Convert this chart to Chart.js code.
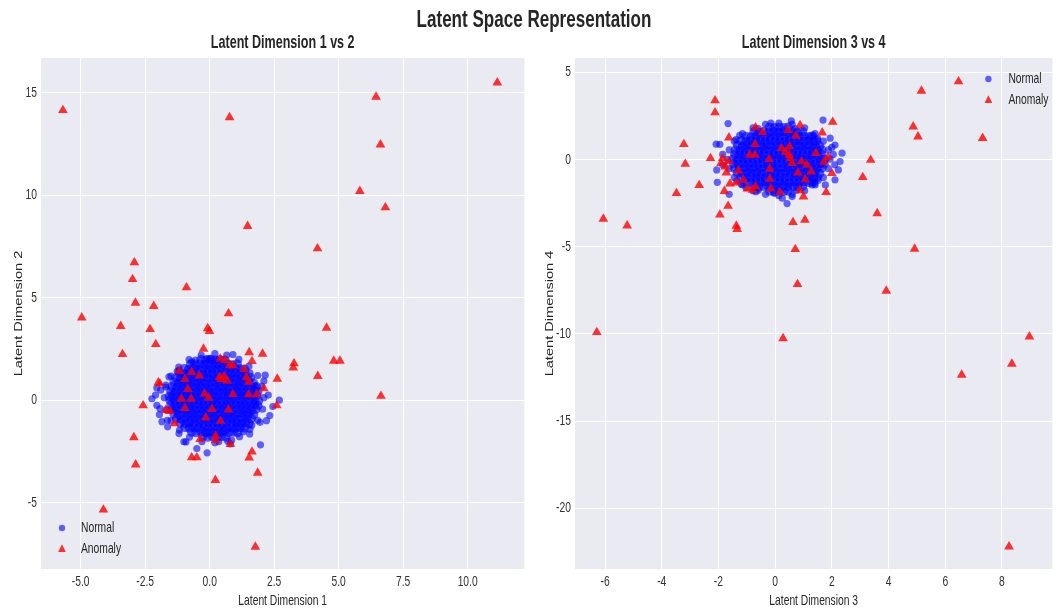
<!DOCTYPE html>
<html>
<head>
<meta charset="utf-8">
<script src="https://cdn.jsdelivr.net/npm/chart.js@4.4.0/dist/chart.umd.min.js"></script>
<style>
html, body { margin: 0; padding: 0; background: #fff; }
#wrap { position: relative; width: 1058px; height: 610px; overflow: hidden; }
#sup { position: absolute; left: 0; width: 1068px; top: 5px; text-align: center; font: bold 24px 'Liberation Sans', sans-serif; line-height: 28px; color: #262626; transform: scaleX(0.71); transform-origin: 534px 0; }
#c1 { position: absolute; left: 0; top: 0; }
#c2 { position: absolute; left: 530px; top: 0; }
</style>
</head>
<body>
<div id="wrap">
  <canvas id="c1" width="530" height="610" style="width:530px;height:610px"></canvas>
  <canvas id="c2" width="528" height="610" style="width:528px;height:610px"></canvas>
  <div id="sup">Latent Space Representation</div>
</div>
<script>
// ---- data: latent dims 1 & 2 ----
const normalCore12 = [
  [-0.26,-1.76],[-0.07,-1.8],[0.11,-1.77],[0.29,-1.79],[0.45,-1.76],[0.62,-1.8],
  [-0.7,-1.55],[-0.53,-1.58],[-0.34,-1.54],[-0.15,-1.57],[0.02,-1.55],[0.21,-1.58],[0.38,-1.56],[0.57,-1.53],[0.74,-1.57],[0.91,-1.55],[1.07,-1.58],
  [-0.96,-1.33],[-0.78,-1.36],[-0.61,-1.32],[-0.42,-1.35],[-0.23,-1.33],[-0.06,-1.36],[0.12,-1.32],[0.31,-1.35],[0.48,-1.33],[0.66,-1.36],[0.85,-1.33],[1.02,-1.35],[1.19,-1.32],[1.35,-1.35],
  [-1.14,-1.11],[-0.95,-1.14],[-0.78,-1.1],[-0.6,-1.13],[-0.41,-1.11],[-0.24,-1.14],[-0.05,-1.1],[0.12,-1.13],[0.3,-1.11],[0.49,-1.14],[0.66,-1.1],[0.84,-1.13],[1.03,-1.11],[1.2,-1.14],[1.37,-1.1],[1.52,-1.13],
  [-1.28,-0.89],[-1.1,-0.92],[-0.92,-0.88],[-0.73,-0.91],[-0.56,-0.89],[-0.38,-0.92],[-0.19,-0.88],[-0.02,-0.91],[0.16,-0.89],[0.35,-0.92],[0.52,-0.88],[0.7,-0.91],[0.89,-0.89],[1.06,-0.92],[1.24,-0.88],[1.42,-0.91],[1.61,-0.89],
  [-1.38,-0.67],[-1.2,-0.7],[-1.01,-0.66],[-0.84,-0.69],[-0.66,-0.67],[-0.47,-0.7],[-0.3,-0.66],[-0.12,-0.69],[0.07,-0.67],[0.24,-0.7],[0.42,-0.66],[0.61,-0.69],[0.78,-0.67],[0.96,-0.7],[1.15,-0.66],[1.32,-0.69],[1.5,-0.67],[1.7,-0.7],
  [-1.46,-0.45],[-1.28,-0.48],[-1.1,-0.44],[-0.91,-0.47],[-0.74,-0.45],[-0.56,-0.48],[-0.37,-0.44],[-0.2,-0.47],[-0.02,-0.45],[0.17,-0.48],[0.34,-0.44],[0.52,-0.47],[0.71,-0.45],[0.88,-0.48],[1.06,-0.44],[1.25,-0.47],[1.42,-0.45],[1.6,-0.48],[1.79,-0.44],
  [-1.5,-0.23],[-1.32,-0.26],[-1.13,-0.22],[-0.96,-0.25],[-0.78,-0.23],[-0.59,-0.26],[-0.42,-0.22],[-0.24,-0.25],[-0.05,-0.23],[0.12,-0.26],[0.3,-0.22],[0.49,-0.25],[0.66,-0.23],[0.84,-0.26],[1.03,-0.22],[1.2,-0.25],[1.38,-0.23],[1.57,-0.26],[1.74,-0.22],[1.86,-0.25],
  [-1.53,-0.01],[-1.35,-0.04],[-1.17,0.0],[-0.98,-0.03],[-0.81,-0.01],[-0.63,-0.04],[-0.44,0.0],[-0.27,-0.03],[-0.09,-0.01],[0.1,-0.04],[0.27,0.0],[0.45,-0.03],[0.64,-0.01],[0.81,-0.04],[0.99,0.0],[1.18,-0.03],[1.35,-0.01],[1.53,-0.04],[1.72,0.0],[1.89,-0.03],
  [-1.56,0.19],[-1.44,0.21],[-1.26,0.18],[-1.08,0.22],[-0.89,0.19],[-0.72,0.21],[-0.54,0.18],[-0.35,0.22],[-0.18,0.19],[0.0,0.21],[0.19,0.18],[0.36,0.22],[0.54,0.19],[0.73,0.21],[0.9,0.18],[1.08,0.22],[1.27,0.19],[1.44,0.21],[1.62,0.18],[1.81,0.22],
  [-1.5,0.43],[-1.32,0.4],[-1.13,0.44],[-0.96,0.41],[-0.78,0.43],[-0.59,0.4],[-0.42,0.44],[-0.24,0.41],[-0.05,0.43],[0.12,0.4],[0.3,0.44],[0.49,0.41],[0.66,0.43],[0.84,0.4],[1.03,0.44],[1.2,0.41],[1.38,0.43],[1.57,0.4],[1.74,0.44],[1.86,0.41],
  [-1.45,0.65],[-1.26,0.62],[-1.08,0.66],[-0.9,0.63],[-0.71,0.65],[-0.54,0.62],[-0.36,0.66],[-0.17,0.63],[0.0,0.65],[0.18,0.62],[0.37,0.66],[0.54,0.63],[0.72,0.65],[0.91,0.62],[1.08,0.66],[1.26,0.63],[1.45,0.65],[1.62,0.62],[1.8,0.66],
  [-1.38,0.87],[-1.2,0.84],[-1.01,0.88],[-0.84,0.85],[-0.66,0.87],[-0.47,0.84],[-0.3,0.88],[-0.12,0.85],[0.07,0.87],[0.24,0.84],[0.42,0.88],[0.61,0.85],[0.78,0.87],[0.96,0.84],[1.15,0.88],[1.32,0.85],[1.5,0.87],[1.69,0.84],
  [-1.3,1.09],[-1.12,1.06],[-0.93,1.1],[-0.76,1.07],[-0.58,1.09],[-0.39,1.06],[-0.22,1.1],[-0.04,1.07],[0.15,1.09],[0.32,1.06],[0.5,1.1],[0.69,1.07],[0.86,1.09],[1.04,1.06],[1.23,1.1],[1.4,1.07],[1.58,1.09],
  [-1.17,1.31],[-0.99,1.28],[-0.8,1.32],[-0.63,1.29],[-0.45,1.31],[-0.26,1.28],[-0.09,1.32],[0.09,1.29],[0.28,1.31],[0.45,1.28],[0.63,1.32],[0.82,1.29],[0.99,1.31],[1.17,1.28],[1.36,1.32],[1.52,1.29],
  [-0.99,1.53],[-0.81,1.5],[-0.62,1.54],[-0.45,1.51],[-0.27,1.53],[-0.08,1.5],[0.09,1.54],[0.27,1.51],[0.46,1.53],[0.63,1.5],[0.81,1.54],[1.0,1.51],[1.17,1.53],[1.35,1.5],
  [-0.74,1.75],[-0.56,1.72],[-0.37,1.76],[-0.2,1.73],[-0.02,1.75],[0.17,1.72],[0.34,1.76],[0.52,1.73],[0.71,1.75],[0.88,1.72],[1.06,1.76],
  [-0.33,1.97],[-0.14,1.94],[0.03,1.98],[0.21,1.95],[0.4,1.97],[0.59,1.94]
];
const normalEdge12 = [
  [2.1,0.12],[2.02,0.68],[1.86,1.2],[1.52,1.66],[1.13,1.99],[0.66,2.2],[0.2,2.27],[-0.33,2.2],[-0.8,1.98],[-1.2,1.62],[-1.5,1.18],[-1.7,0.64],
  [-1.76,0.12],[-1.69,-0.47],[-1.5,-1.0],[-1.17,-1.46],[-0.78,-1.8],[-0.3,-2.02],[0.2,-2.08],[0.7,-2.0],[1.16,-1.78],[1.56,-1.42],[1.86,-0.98],[2.05,-0.44],
  [-2.24,0.07],[0.9,2.23],[2.1,0.93],[2.7,0.0],[2.27,0.25],[2.45,-0.31],[2.33,-0.75],[2.2,-1.0],[1.95,-1.08],[1.55,-1.65],[1.97,-2.18],[0.8,-2.13],
  [0.35,-2.03],[-0.1,-2.57],[-0.5,-2.36],[-0.92,-2.04],[-1.63,-1.3],[-1.64,-0.98],[-1.93,-0.41],[-1.9,0.49],[-1.7,0.73],[-1.26,1.41],[-0.55,1.95],[0.03,2.03],
  [-2.05,0.6],[-2.1,0.25],[-2.05,-0.25],[-1.95,-0.7],[-1.85,-1.05],[-1.19,-1.63],[-1.0,-2.03],[0.85,-1.95],[1.31,-1.54],[1.63,-1.22],[2.15,1.22],[1.76,0.68],
  [-0.68,1.87],[-0.1,2.03],[0.28,1.95],[-1.19,1.46],[-1.58,1.14]
];
const anomaly12 = [
  [-5.69,14.15],[0.77,13.8],[6.45,14.8],[11.15,15.5],[6.62,12.47],[5.82,10.2],[6.81,9.4],[1.47,8.49],[4.18,7.4],[-2.92,6.72],
  [-2.99,5.9],[-0.9,5.5],[-2.88,4.75],[-2.17,4.59],[-4.96,4.03],[0.73,4.23],[-3.45,3.61],[-2.31,3.46],[-0.08,3.5],[-0.01,3.37],
  [4.53,3.53],[-2.09,2.73],[-3.38,2.24],[-0.24,2.5],[1.53,2.33],[2.05,2.26],[1.64,1.9],[3.27,1.79],[3.24,1.58],[4.81,1.92],
  [5.05,1.92],[4.19,1.17],[2.62,1.04],[6.64,0.2],[-2.58,-0.26],[2.6,-0.26],[-2.94,-1.82],[-2.87,-3.15],[-0.7,-2.8],[-0.5,-2.8],
  [1.53,-2.81],[1.64,-2.52],[1.86,-3.55],[0.22,-3.9],[-4.12,-5.35],[1.77,-7.16],[-0.37,-1.9],[0.23,-1.74],[0.23,-1.95],[0.8,-2.15],
  [-1.99,0.86],[-1.93,0.8],[-1.18,1.43],[-0.96,1.02],[-0.7,1.37],[-0.4,1.2],[-0.85,0.54],[-1.1,0.06],[-0.72,0.06],[-0.96,-0.39],
  [-1.7,-0.49],[-1.54,-0.54],[-1.36,-1.14],[-0.2,0.31],[-0.04,0.11],[0.09,-0.44],[-0.15,-0.85],[0.42,-1.02],[0.73,-0.46],[0.9,0.29],
  [0.41,2.02],[0.6,1.95],[0.77,1.69],[0.91,1.69],[0.38,1.12],[0.56,1.17],[0.68,0.94],[0.45,1.02],[1.33,1.51],[1.42,1.11],
  [1.51,0.89],[1.51,0.28],[1.82,0.28],[2.1,0.57]
];

// ---- data: latent dims 3 & 4 ----
const normalCore34 = [
  [-0.2,-1.79],[-0.03,-1.82],[0.14,-1.78],[0.31,-1.81],[0.46,-1.79],
  [-0.74,-1.53],[-0.57,-1.56],[-0.4,-1.52],[-0.23,-1.55],[-0.06,-1.53],[0.11,-1.56],[0.28,-1.52],[0.45,-1.55],[0.62,-1.53],[0.79,-1.56],[0.96,-1.52],
  [-1.02,-1.27],[-0.85,-1.3],[-0.68,-1.26],[-0.51,-1.29],[-0.34,-1.27],[-0.17,-1.3],[0.0,-1.26],[0.17,-1.29],[0.34,-1.27],[0.51,-1.3],[0.68,-1.26],[0.85,-1.29],[1.02,-1.27],[1.19,-1.3],[1.3,-1.26],
  [-1.2,-1.01],[-1.03,-1.04],[-0.86,-1.0],[-0.69,-1.03],[-0.52,-1.01],[-0.35,-1.04],[-0.18,-1.0],[-0.01,-1.03],[0.16,-1.01],[0.33,-1.04],[0.5,-1.0],[0.67,-1.03],[0.84,-1.01],[1.01,-1.04],[1.18,-1.0],[1.35,-1.03],[1.47,-1.01],
  [-1.33,-0.75],[-1.16,-0.78],[-0.99,-0.74],[-0.82,-0.77],[-0.65,-0.75],[-0.48,-0.78],[-0.31,-0.74],[-0.14,-0.77],[0.03,-0.75],[0.2,-0.78],[0.37,-0.74],[0.54,-0.77],[0.71,-0.75],[0.88,-0.78],[1.05,-0.74],[1.22,-0.77],[1.39,-0.75],[1.56,-0.78],
  [-1.42,-0.49],[-1.25,-0.52],[-1.08,-0.48],[-0.91,-0.51],[-0.74,-0.49],[-0.57,-0.52],[-0.4,-0.48],[-0.23,-0.51],[-0.06,-0.49],[0.11,-0.52],[0.28,-0.48],[0.45,-0.51],[0.62,-0.49],[0.79,-0.52],[0.96,-0.48],[1.13,-0.51],[1.3,-0.49],[1.47,-0.52],[1.64,-0.48],
  [-1.46,-0.23],[-1.29,-0.26],[-1.12,-0.22],[-0.95,-0.25],[-0.78,-0.23],[-0.61,-0.26],[-0.44,-0.22],[-0.27,-0.25],[-0.1,-0.23],[0.07,-0.26],[0.24,-0.22],[0.41,-0.25],[0.58,-0.23],[0.75,-0.26],[0.92,-0.22],[1.09,-0.25],[1.26,-0.23],[1.43,-0.26],[1.6,-0.22],[1.72,-0.25],
  [-1.48,0.03],[-1.31,0.0],[-1.14,0.04],[-0.97,0.01],[-0.8,0.03],[-0.63,0.0],[-0.46,0.04],[-0.29,0.01],[-0.12,0.03],[0.05,0.0],[0.22,0.04],[0.39,0.01],[0.56,0.03],[0.73,0.0],[0.9,0.04],[1.07,0.01],[1.24,0.03],[1.41,0.0],[1.58,0.04],[1.74,0.01],
  [-1.42,0.29],[-1.25,0.26],[-1.08,0.3],[-0.91,0.27],[-0.74,0.29],[-0.57,0.26],[-0.4,0.3],[-0.23,0.27],[-0.06,0.29],[0.11,0.26],[0.28,0.3],[0.45,0.27],[0.62,0.29],[0.79,0.26],[0.96,0.3],[1.13,0.27],[1.3,0.29],[1.47,0.26],[1.64,0.3],
  [-1.4,0.55],[-1.23,0.52],[-1.06,0.56],[-0.89,0.53],[-0.72,0.55],[-0.55,0.52],[-0.38,0.56],[-0.21,0.53],[-0.04,0.55],[0.13,0.52],[0.3,0.56],[0.47,0.53],[0.64,0.55],[0.81,0.52],[0.98,0.56],[1.15,0.53],[1.32,0.55],[1.49,0.52],[1.64,0.56],
  [-1.32,0.81],[-1.15,0.78],[-0.98,0.82],[-0.81,0.79],[-0.64,0.81],[-0.47,0.78],[-0.3,0.82],[-0.13,0.79],[0.04,0.81],[0.21,0.78],[0.38,0.82],[0.55,0.79],[0.72,0.81],[0.89,0.78],[1.06,0.82],[1.23,0.79],[1.4,0.81],[1.57,0.78],
  [-1.2,1.07],[-1.03,1.04],[-0.86,1.08],[-0.69,1.05],[-0.52,1.07],[-0.35,1.04],[-0.18,1.08],[-0.01,1.05],[0.16,1.07],[0.33,1.04],[0.5,1.08],[0.67,1.05],[0.84,1.07],[1.01,1.04],[1.18,1.08],[1.35,1.05],[1.46,1.07],
  [-1.02,1.33],[-0.85,1.3],[-0.68,1.34],[-0.51,1.31],[-0.34,1.33],[-0.17,1.3],[0.0,1.34],[0.17,1.31],[0.34,1.33],[0.51,1.3],[0.68,1.34],[0.85,1.31],[1.02,1.33],[1.19,1.3],[1.29,1.34],
  [-0.74,1.59],[-0.57,1.56],[-0.4,1.6],[-0.23,1.57],[-0.06,1.59],[0.11,1.56],[0.28,1.6],[0.45,1.57],[0.62,1.59],[0.79,1.56],[0.96,1.6],
  [-0.2,1.85],[-0.03,1.82],[0.14,1.86],[0.31,1.83],[0.46,1.85]
];
const normalEdge34 = [
  [1.94,0.03],[1.88,0.56],[1.7,1.06],[1.41,1.49],[1.04,1.82],[0.6,2.03],[0.13,2.1],[-0.34,2.03],[-0.78,1.82],[-1.15,1.49],[-1.44,1.06],[-1.62,0.56],
  [-1.68,0.02],[-1.62,-0.52],[-1.44,-1.02],[-1.15,-1.45],[-0.78,-1.78],[-0.34,-1.99],[0.13,-2.06],[0.6,-1.99],[1.04,-1.78],[1.41,-1.45],[1.7,-1.02],[1.88,-0.52],
  [-1.66,2.07],[-1.95,0.88],[-2.08,0.89],[-2.06,-0.59],[-2.04,-1.3],[-1.62,-1.99],[-1.03,-1.6],[-0.15,2.09],[0.57,2.22],[1.69,2.27],[1.94,1.23],[2.11,0.84],
  [2.36,0.37],[2.29,-0.11],[2.23,-0.59],[2.11,-1.16],[1.77,-1.45],[1.3,-1.45],[0.6,-2.12],[0.42,-2.52],[0.25,-2.21],[-0.03,-1.93],[-0.68,-1.84],[2.05,0.3],
  [2.1,-0.3],[2.0,0.7],[-1.85,0.3],[-1.85,-0.3],[-1.25,1.4],[-1.38,1.15],[1.35,1.4],[1.5,1.2],[-1.2,-1.4],[-1.35,-1.2],[1.4,-1.35],[1.52,-1.18],
  [-0.6,1.78],[0.7,1.78],[-0.6,-1.75],[0.75,-1.75]
];
const anomaly34 = [
  [-2.12,3.39],[-2.12,2.7],[6.47,4.48],[5.16,3.94],[4.87,1.89],[5.04,1.32],[7.32,1.23],[-3.22,0.88],[-3.17,-0.25],[-2.28,0.08],
  [3.37,-0.02],[3.09,-1.01],[-3.48,-1.93],[-2.68,-1.47],[-6.06,-3.4],[-5.22,-3.79],[-1.95,-3.16],[-1.66,-2.66],[-1.79,-1.81],[-1.37,-3.8],
  [-1.34,-3.99],[3.6,-3.08],[0.63,-3.59],[1.05,-3.46],[0.71,-5.14],[4.92,-5.12],[0.79,-7.15],[3.92,-7.53],[2.03,2.16],[1.66,1.55],
  [0.88,1.97],[1.8,-1.87],[1.0,-2.12],[0.87,-1.76],[0.17,-1.87],[-0.15,-1.66],[-0.69,1.84],[-0.44,1.57],[0.45,1.69],[0.73,1.36],
  [-0.71,0.88],[-1.63,1.26],[-0.9,0.27],[-0.71,0.27],[-0.21,0.02],[-0.19,-0.53],[-0.19,-1.11],[0.22,0.65],[0.51,0.75],[0.36,0.44],
  [0.5,0.27],[0.53,0.08],[0.6,-0.21],[0.93,-0.11],[1.12,-0.3],[0.8,-0.75],[1.06,-1.13],[1.27,-0.69],[1.44,0.37],[1.72,-0.13],
  [1.87,0.14],[2.0,-0.78],[-1.3,-0.63],[-1.12,-1.16],[-1.37,-1.32],[-1.59,-1.38],[-0.98,-1.66],[-0.8,-1.74],[-0.69,-1.55],[-1.91,-0.21],
  [-1.76,-0.4],[-1.63,-0.11],[-1.72,-0.75],[-1.85,0.08],[-6.29,-9.9],[0.28,-10.25],[6.58,-12.35],[8.35,-11.72],[8.97,-10.15],[8.25,-22.2]
];

// ---- axes ----
const ticksX12 = [-5, -2.5, 0, 2.5, 5, 7.5, 10];
const ticksY12 = [-5, 0, 5, 10, 15];
const ticksX34 = [-6, -4, -2, 0, 2, 4, 6, 8];
const ticksY34 = [-20, -15, -10, -5, 0, 5];
const rangeX12 = [-6.54, 12.2];
const rangeY12 = [-8.24, 16.7];
const rangeX34 = [-7.06, 9.78];
const rangeY34 = [-23.48, 5.83];

const FONT = "'Liberation Sans', Arial, sans-serif";
const TEXT = '#262626';
const NORMAL_COLOR = 'rgba(0,0,255,0.6)';
const ANOMALY_COLOR = 'rgba(255,0,0,0.8)';
const SQUEEZE = 0.71;   // the reference is squeezed horizontally

Chart.defaults.font.family = FONT;

const toXY = arr => arr.map(p => ({ x: p[0], y: p[1] }));

// draw all canvas text compressed along the page x direction
function squeezeText(canvas, k) {
  const ctx = canvas.getContext('2d');
  const orig = ctx.fillText;
  ctx.fillText = function (text, x, y, maxWidth) {
    const m = ctx.getTransform();
    const p = m.transformPoint(new DOMPoint(x, y));
    ctx.save();
    ctx.setTransform(new DOMMatrix([k, 0, 0, 1, p.x * (1 - k), 0]).multiply(m));
    if (maxWidth === undefined) orig.call(ctx, text, x, y);
    else orig.call(ctx, text, x, y, maxWidth / k);
    ctx.restore();
  };
}

const panelBg = {
  id: 'panelBg',
  beforeDraw(chart) {
    const { ctx, chartArea: a } = chart;
    ctx.save();
    ctx.fillStyle = '#EAEAF2';
    ctx.fillRect(a.left, a.top, a.right - a.left, a.bottom - a.top);
    ctx.restore();
  }
};

// subplot title centred over the plot area (matplotlib style)
const panelTitle = {
  id: 'panelTitle',
  afterDraw(chart, args, opts) {
    const { ctx, chartArea: a } = chart;
    ctx.save();
    ctx.font = 'bold 17.7px ' + FONT;
    ctx.fillStyle = TEXT;
    ctx.textAlign = 'center';
    ctx.textBaseline = 'middle';
    ctx.fillText(opts.text, (a.left + a.right) / 2, opts.y);
    ctx.restore();
  }
};

// legend drawn inside the plot area, like matplotlib's
const innerLegend = {
  id: 'innerLegend',
  afterDraw(chart, args, opts) {
    const { ctx, chartArea: a } = chart;
    const x0 = opts.fromRight ? a.right - opts.dx : a.left + opts.dx;
    const y0 = opts.fromBottom ? a.bottom - opts.dy : a.top + opts.dy;
    ctx.save();
    ctx.font = '14.5px ' + FONT;
    ctx.textBaseline = 'middle';
    ctx.textAlign = 'left';
    chart.data.datasets.filter(ds => ds.inLegend !== false).forEach((ds, i) => {
      const y = y0 + i * opts.rowGap;
      ctx.fillStyle = ds.backgroundColor;
      ctx.beginPath();
      if (ds.pointStyle === 'triangle') {
        const r = 4.8;
        ctx.moveTo(x0, y - r);
        ctx.lineTo(x0 + r * 0.8, y + r * 0.6);
        ctx.lineTo(x0 - r * 0.8, y + r * 0.6);
        ctx.closePath();
      } else {
        ctx.arc(x0, y, 3.2, 0, Math.PI * 2);
      }
      ctx.fill();
      ctx.fillStyle = TEXT;
      ctx.fillText(ds.label, x0 + opts.textGap, y);
    });
    ctx.restore();
  }
};

function makeChart(id, cfg) {
  const canvas = document.getElementById(id);
  squeezeText(canvas, SQUEEZE);
  return new Chart(canvas, {
    type: 'scatter',
    data: {
      datasets: [
        { label: 'Normal', data: toXY(cfg.normalEdge), pointStyle: 'circle', pointRadius: 3.6, borderWidth: 0,
          backgroundColor: NORMAL_COLOR, order: 2 },
        { label: 'Anomaly', data: toXY(cfg.anomaly), pointStyle: 'triangle', pointRadius: 5.6, borderWidth: 0,
          backgroundColor: ANOMALY_COLOR, order: 1 },
        { label: 'Normal', data: toXY(cfg.normalCore), pointStyle: 'circle', pointRadius: 4.8, borderWidth: 0,
          backgroundColor: NORMAL_COLOR, order: 3, inLegend: false }
      ]
    },
    options: {
      responsive: false,
      animation: false,
      events: [],
      layout: { padding: { left: 0, right: cfg.padRight, top: 58, bottom: 0 } },
      plugins: {
        legend: { display: false },
        tooltip: { enabled: false },
        title: { display: false },
        panelTitle: { text: cfg.title, y: 43 },
        innerLegend: cfg.legend
      },
      scales: {
        x: {
          type: 'linear', min: cfg.rangeX[0], max: cfg.rangeX[1],
          afterBuildTicks: s => { s.ticks = cfg.ticksX.map(v => ({ value: v })); },
          afterFit: s => { s.height = 41; },
          grid: { color: '#ffffff', lineWidth: 1, drawTicks: false },
          border: { display: false },
          ticks: { padding: 4, color: '#333', font: { size: 14.5 }, maxRotation: 0, autoSkip: false,
                   callback: cfg.fmtX },
          title: { display: true, text: cfg.xTitle, color: TEXT, font: { size: 14.5, lineHeight: 1.2 },
                   padding: { top: 0, bottom: 0 } }
        },
        y: {
          type: 'linear', min: cfg.rangeY[0], max: cfg.rangeY[1],
          afterBuildTicks: s => { s.ticks = cfg.ticksY.map(v => ({ value: v })); },
          afterFit: s => { s.width = cfg.yWidth; },
          grid: { color: '#ffffff', lineWidth: 1, drawTicks: false },
          border: { display: false },
          ticks: { padding: 4, color: '#333', font: { size: 14.5 }, autoSkip: false, callback: v => String(v) },
          title: { display: true, text: cfg.yTitle, color: TEXT, font: { size: 14.6, lineHeight: 1.2 },
                   padding: { top: cfg.yTitlePad, bottom: 0 } }
        }
      }
    },
    plugins: [panelBg, panelTitle, innerLegend]
  });
}

makeChart('c1', {
  normalCore: normalCore12, normalEdge: normalEdge12, anomaly: anomaly12,
  title: 'Latent Dimension 1 vs 2', xTitle: 'Latent Dimension 1', yTitle: 'Latent Dimension 2',
  rangeX: rangeX12, rangeY: rangeY12, ticksX: ticksX12, ticksY: ticksY12,
  fmtX: v => v.toFixed(1), yWidth: 41, padRight: 2, yTitlePad: 10,
  legend: { fromRight: false, fromBottom: true, dx: 21, dy: 41, rowGap: 21, textGap: 19 }
});

makeChart('c2', {
  normalCore: normalCore34, normalEdge: normalEdge34, anomaly: anomaly34,
  title: 'Latent Dimension 3 vs 4', xTitle: 'Latent Dimension 3', yTitle: 'Latent Dimension 4',
  rangeX: rangeX34, rangeY: rangeY34, ticksX: ticksX34, ticksY: ticksY34,
  fmtX: v => String(v), yWidth: 45, padRight: 0, yTitlePad: 11.8,
  legend: { fromRight: true, fromBottom: false, dx: 64, dy: 21, rowGap: 21, textGap: 20 }
});
</script>
</body>
</html>
